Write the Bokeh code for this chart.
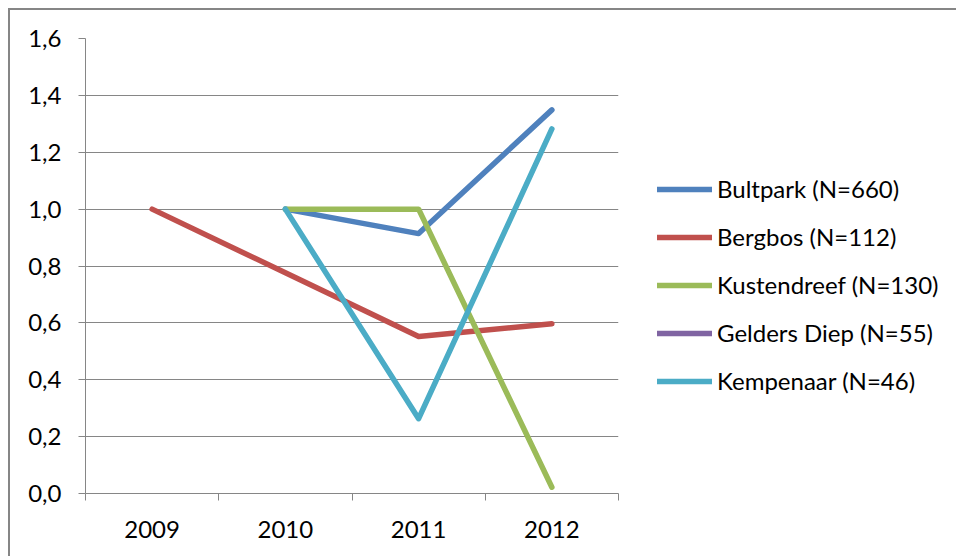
from bokeh.plotting import figure
from bokeh.models import (ColumnDataSource, FixedTicker, Legend, LegendItem,
                          CustomJSTickFormatter, Range1d)
from bokeh.embed import file_html
from bokeh.resources import INLINE

years = ["2009", "2010", "2011", "2012"]
bultpark = [None, 1.0, 0.914, 1.349]
bergbos = [1.0, 0.776, 0.552, 0.597]
kustendreef = [None, 1.0, 1.0, 0.022]
gelders_diep = [None, None, None, None]
kempenaar = [None, 1.0, 0.263, 1.282]

series = [
    ("Bultpark (N=660)", bultpark, "#4F81BD"),
    ("Bergbos (N=112)", bergbos, "#C0504D"),
    ("Kustendreef (N=130)", kustendreef, "#9BBB59"),
    ("Gelders Diep (N=55)", gelders_diep, "#8064A2"),
    ("Kempenaar (N=46)", kempenaar, "#4BACC6"),
]

FONT = "Lato"
GRAY = "#868686"
FS = "24px"

p = figure(width=946, height=546, output_backend="svg", toolbar_location=None,
           x_range=Range1d(0, len(years)), y_range=Range1d(0, 1.6),
           frame_width=533, frame_height=455,
           min_border_left=75, min_border_top=28, min_border_right=338,
           min_border_bottom=63)
p.margin = (8, 0, 0, 8)
p.styles = {"border-left": "2px solid #868686", "border-top": "2px solid #868686"}
p.outline_line_color = None
p.background_fill_color = "white"
p.border_fill_color = "white"

centers = [i + 0.5 for i in range(len(years))]

items = []
for label, vals, color in series:
    ys = [float("nan") if v is None else v for v in vals]
    src = ColumnDataSource(dict(x=centers, y=ys))
    r = p.line("x", "y", source=src, line_color=color, line_width=5.5,
               line_cap="round", line_join="round")
    items.append(LegendItem(label=label, renderers=[r]))

# x axis: labels at category centres, ticks at category boundaries
xa = p.xaxis[0]
xa.ticker = FixedTicker(ticks=centers, minor_ticks=list(range(len(years) + 1)))
xa.major_label_overrides = {c: y for c, y in zip(centers, years)}
xa.major_tick_line_color = None
xa.minor_tick_line_color = GRAY
xa.minor_tick_out = 7
xa.minor_tick_in = 0
xa.axis_line_color = GRAY
xa.major_label_text_font = FONT
xa.major_label_text_font_size = FS
xa.major_label_text_color = "black"
xa.major_label_standoff = 20

ya = p.yaxis[0]
ya.ticker = FixedTicker(ticks=[0, 0.2, 0.4, 0.6, 0.8, 1.0, 1.2, 1.4, 1.6])
ya.formatter = CustomJSTickFormatter(code="return tick.toFixed(1).replace('.', ',');")
ya.major_tick_line_color = GRAY
ya.major_tick_out = 7
ya.major_tick_in = 0
ya.minor_tick_line_color = None
ya.axis_line_color = GRAY
ya.major_label_text_font = FONT
ya.major_label_text_font_size = FS
ya.major_label_text_color = "black"
ya.major_label_standoff = 17

p.xgrid.grid_line_color = None
p.ygrid.ticker = FixedTicker(ticks=[0.2, 0.4, 0.6, 0.8, 1.0, 1.2, 1.4, 1.6])
p.ygrid.grid_line_color = GRAY
p.ygrid.grid_line_width = 1

legend = Legend(items=items, location=(39, 98), orientation="vertical")
legend.glyph_width = 55
legend.glyph_height = 20
legend.label_height = 20
legend.label_standoff = 5
legend.spacing = 19
legend.padding = 0
legend.margin = 0
legend.border_line_color = None
legend.background_fill_alpha = 0
legend.label_text_font = FONT
legend.label_text_font_size = FS
legend.label_text_color = "black"
p.add_layout(legend, "right")

open("out.html", "w").write(file_html(p, INLINE))
